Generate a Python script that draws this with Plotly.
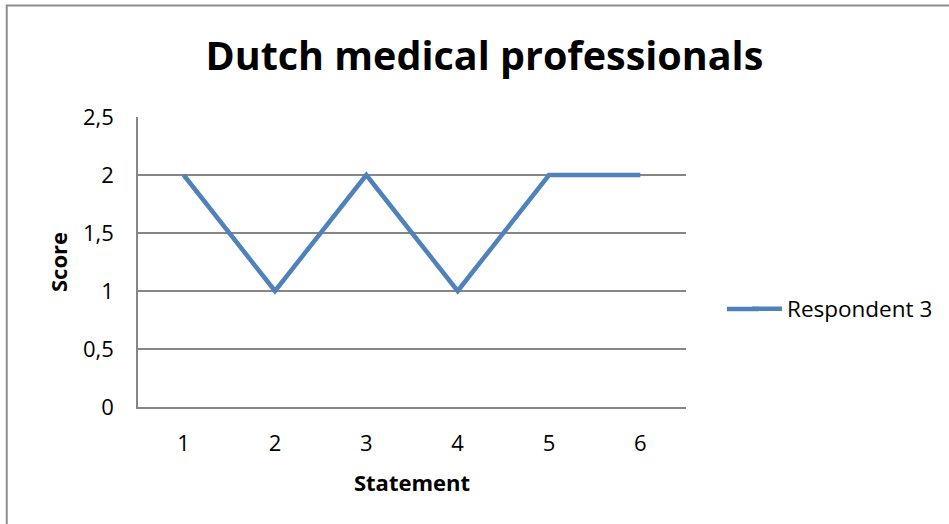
import plotly.graph_objects as go

statements = [1, 2, 3, 4, 5, 6]
scores = [2, 1, 2, 1, 2, 2]
series_name = "Respondent 3"
y_ticks = [0, 0.5, 1, 1.5, 2, 2.5]
y_tick_labels = ["0", "0,5", "1", "1,5", "2", "2,5"]

W, H = 949, 524
L, R, T, B = 138, 687, 117, 407  # plot area in pixels

def px_x(x):
    return (x - L) / (R - L)

def px_y(y):
    return (B - y) / (B - T)

FONT = "Open Sans"
GRID = "#868686"
LINE_COLOR = "#4F81BD"

fig = go.Figure()
fig.add_trace(go.Scatter(
    x=statements, y=scores, mode="lines", name=series_name,
    line=dict(color=LINE_COLOR, width=4.5),
))

fig.update_layout(
    width=W, height=H,
    margin=dict(l=L, r=W - R, t=T, b=H - B),
    paper_bgcolor="white", plot_bgcolor="white",
    separators=", ",
    showlegend=True,
    font=dict(family=FONT, color="black", size=22),
    title=dict(
        text="<b>Dutch medical professionals</b>",
        font=dict(family=FONT, size=39.5, color="black"),
        x=px_x(485), xref="paper", xanchor="center",
        y=1 - 56 / H, yref="container", yanchor="middle",
    ),
    legend=dict(
        x=px_x(747), y=px_y(309), xref="paper", yref="paper",
        xanchor="left", yanchor="middle",
        font=dict(family=FONT, size=22.5, color="black"),
        bgcolor="rgba(0,0,0,0)",
    ),
    xaxis=dict(
        range=[0.5, 6.5], tickmode="array", tickvals=statements,
        ticktext=[str(s) for s in statements],
        showgrid=False, zeroline=False,
        showline=True, linecolor=GRID, linewidth=1.5,
        ticks="", ticklabelstandoff=16,
        title=dict(text="<b>Statement</b>", font=dict(family=FONT, size=22), standoff=19),
    ),
    yaxis=dict(
        range=[0, 2.5], tickmode="array", tickvals=y_ticks, ticktext=y_tick_labels,
        showgrid=True, gridcolor=GRID, gridwidth=1.5, zeroline=False,
        showline=True, linecolor=GRID, linewidth=1.5,
        ticks="", ticklabelstandoff=18,
        title=dict(text="<b>Score</b>", font=dict(family=FONT, size=22), standoff=9),
    ),
)

# longer legend swatch, continuing the legend's own line sample to the left
fig.add_shape(
    type="line", xref="paper", yref="paper",
    x0=px_x(728), x1=px_x(760), y0=px_y(309), y1=px_y(309),
    line=dict(color=LINE_COLOR, width=4.5),
)

# outer chart frame
fig.add_shape(
    type="rect", xref="paper", yref="paper",
    x0=px_x(6.5), x1=px_x(960), y0=px_y(530), y1=px_y(5.5),
    line=dict(color="#8C8C8C", width=2), fillcolor="rgba(0,0,0,0)", layer="below",
)

fig.write_html("out.html")
